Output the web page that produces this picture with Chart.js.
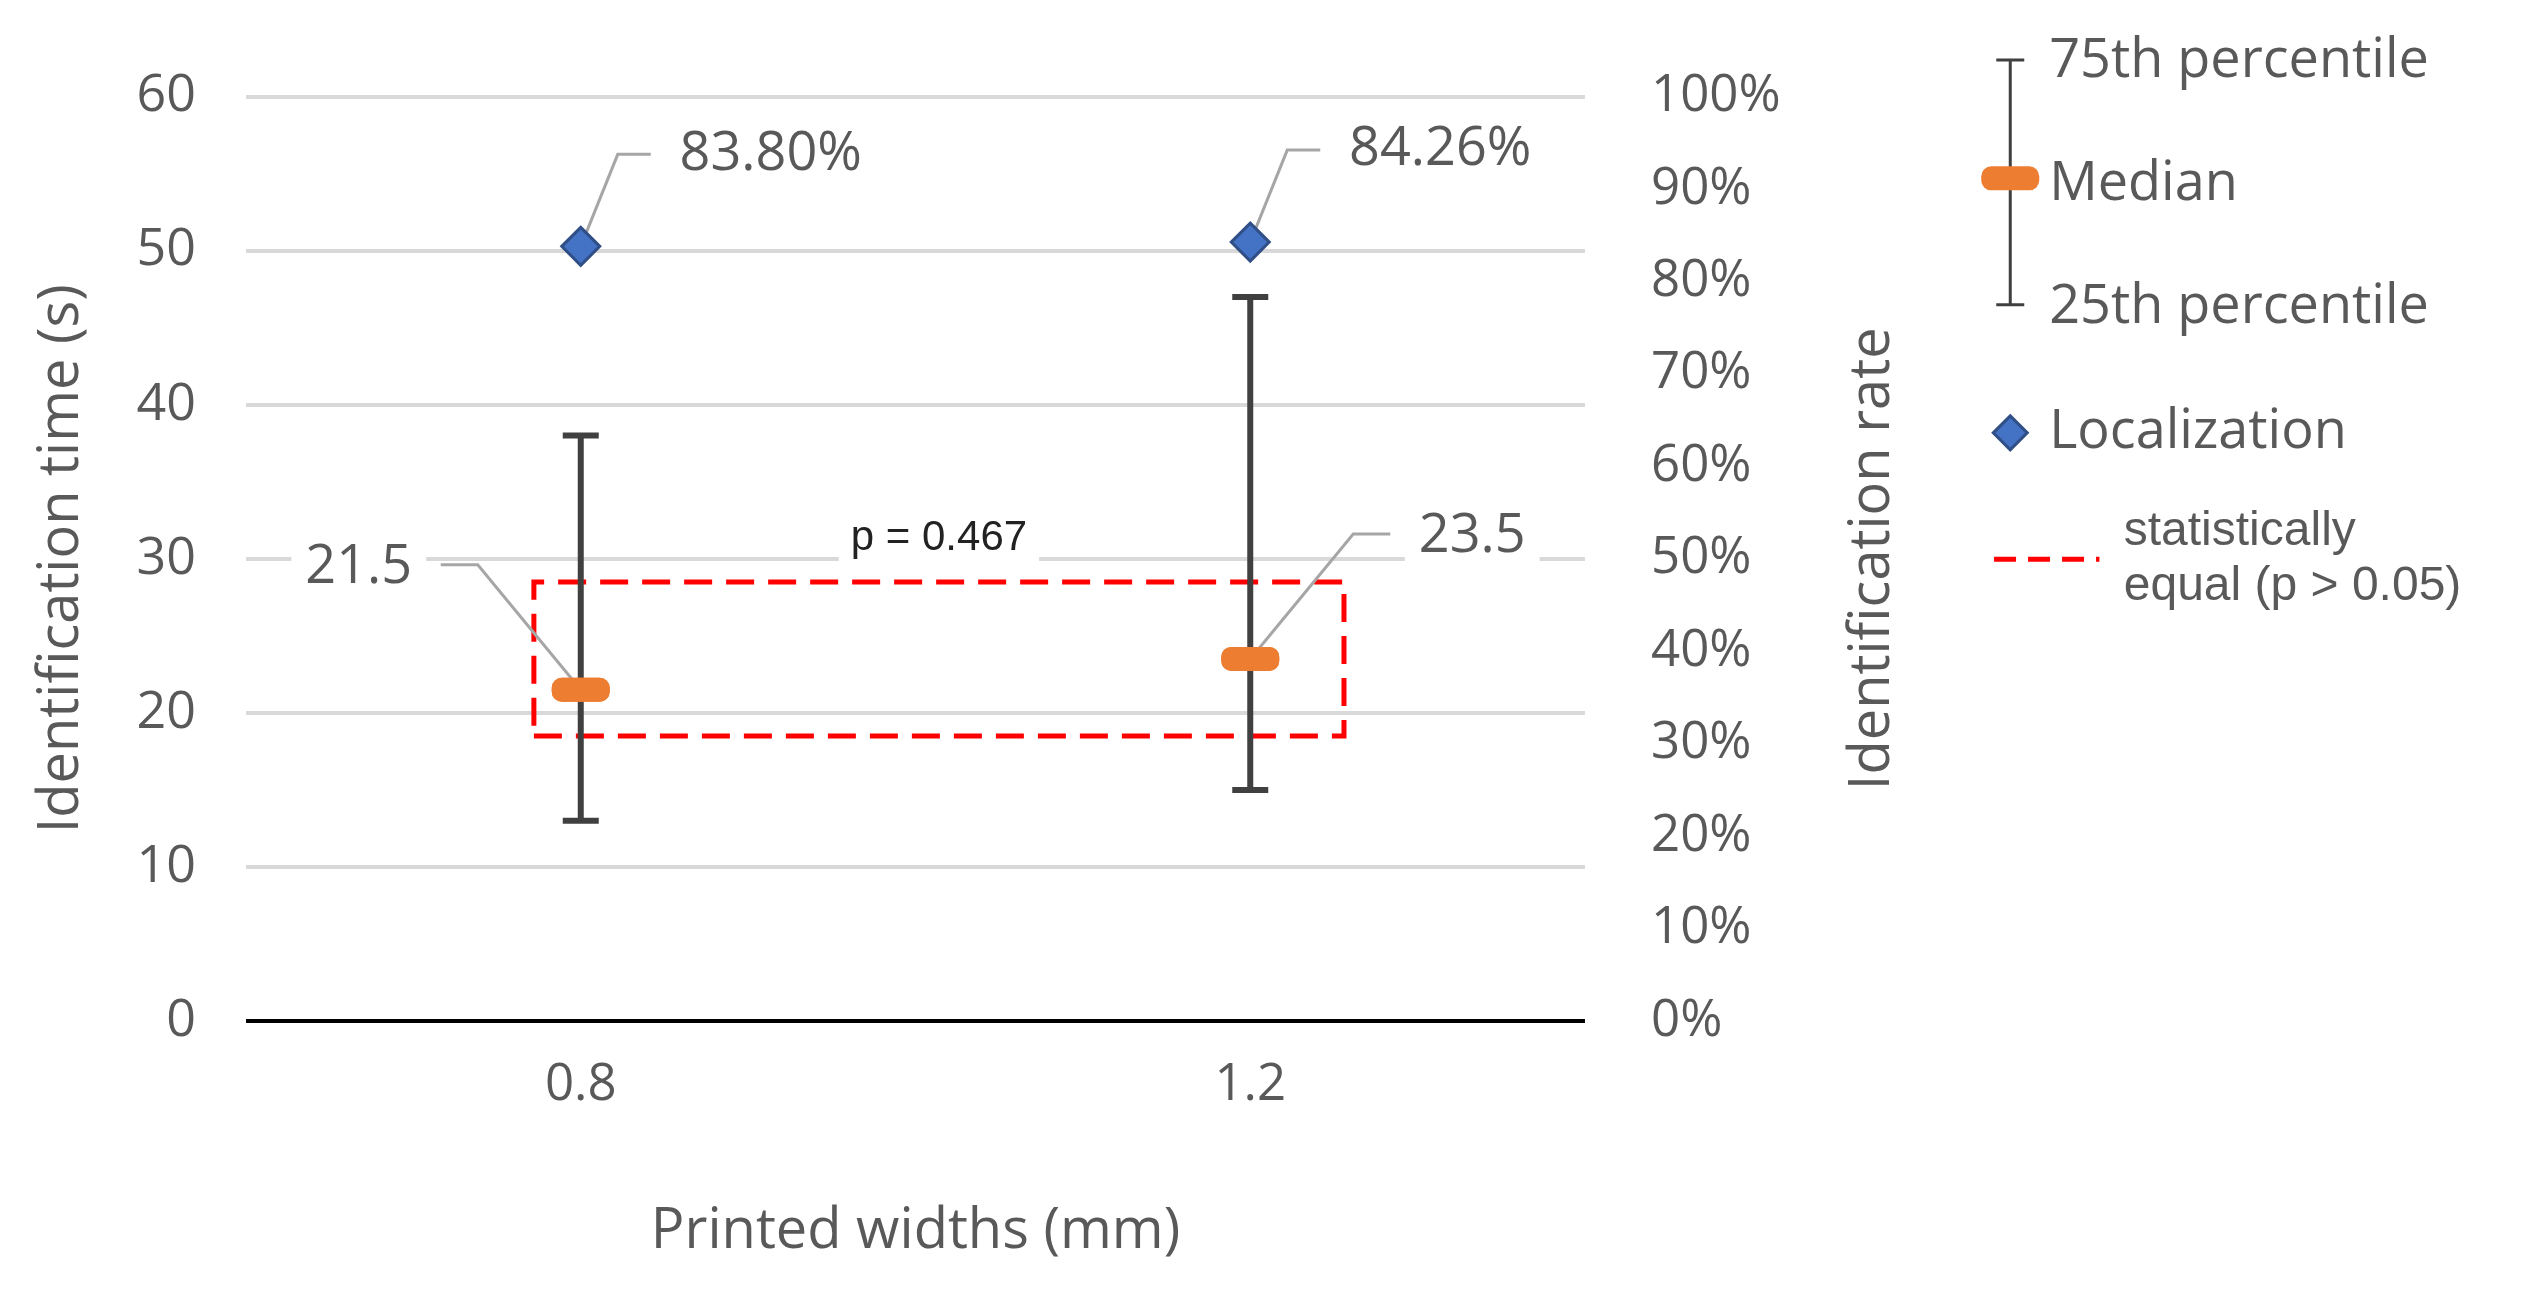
<!DOCTYPE html>
<html><head><meta charset="utf-8">
<script src="https://cdn.jsdelivr.net/npm/chart.js@4.4.1/dist/chart.umd.min.js"></script>
<style>html,body{margin:0;padding:0;background:#fff}#wrap{width:2542px;height:1295px}</style>
</head><body><div id="wrap"><canvas id="c"></canvas></div>
<script>
// data
const widths = ['0.8', '1.2'];
const q1 = [13, 15];
const q3 = [38, 47];
const medians = [21.5, 23.5];
const localization = [83.80, 84.26];
const eqBoxX = [-0.07, 1.14];
const eqBoxY = [18.5, 28.5];
const pText = 'p = 0.467';

const S = 2542 / 1568;
const GRAY = '#595959';
const FONT = '"Open Sans", "Noto Sans", sans-serif';

function diamond(ctx, x, y, r) {
    ctx.beginPath();
    ctx.moveTo(x, y - r); ctx.lineTo(x + r, y); ctx.lineTo(x, y + r); ctx.lineTo(x - r, y); ctx.closePath();
    ctx.fillStyle = '#4472c4'; ctx.fill();
    ctx.strokeStyle = '#2f4f86'; ctx.lineWidth = 3; ctx.stroke();
}
function medianBar(ctx, x, y) {
    ctx.fillStyle = '#ed7d31';
    ctx.beginPath();
    ctx.roundRect(x - 29, y - 12, 58, 24, 10);
    ctx.fill();
}
function leaderLabel(ctx, px, py, pts, tx, ty, text) {
    ctx.font = '54px ' + FONT;
    const tw = ctx.measureText(text).width;
    ctx.fillStyle = '#fff';
    ctx.fillRect(px + tx - tw / 2 - 14, py + ty - 34, tw + 28, 68);
    ctx.strokeStyle = '#a6a6a6'; ctx.lineWidth = 3;
    ctx.beginPath(); ctx.moveTo(px, py);
    pts.forEach(p => ctx.lineTo(px + p[0], py + p[1]));
    ctx.stroke();
    ctx.fillStyle = GRAY; ctx.textAlign = 'center'; ctx.textBaseline = 'middle';
    ctx.fillText(text, px + tx, py + ty);
}

const drawExtras = {
    id: 'extras',
    afterDatasetsDraw(chart) {
        const ctx = chart.ctx, x = chart.scales.x, y = chart.scales.y, y2 = chart.scales.y2;
        ctx.save();
        // whiskers
        widths.forEach((w, i) => {
            const px = x.getPixelForValue(i);
            const a = y.getPixelForValue(q1[i]), b = y.getPixelForValue(q3[i]);
            ctx.strokeStyle = '#404040'; ctx.lineWidth = 6;
            ctx.beginPath();
            ctx.moveTo(px, a); ctx.lineTo(px, b);
            ctx.moveTo(px - 18, a); ctx.lineTo(px + 18, a);
            ctx.moveTo(px - 18, b); ctx.lineTo(px + 18, b);
            ctx.stroke();
            medianBar(ctx, px, y.getPixelForValue(medians[i]));
        });
        // p label
        const cx = x.getPixelForValue((eqBoxX[0] + eqBoxX[1]) / 2), cy = y.getPixelForValue(31.3);
        ctx.font = '42px "Liberation Sans", Arial, sans-serif';
        const tw = ctx.measureText(pText).width;
        ctx.fillStyle = '#fff'; ctx.fillRect(cx - tw / 2 - 12, cy - 26, tw + 24, 52);
        ctx.fillStyle = '#222'; ctx.textAlign = 'center'; ctx.textBaseline = 'middle';
        ctx.fillText(pText, cx, cy);
        // data labels
        localization.forEach((v, i) => {
            const px = x.getPixelForValue(i), py = y2.getPixelForValue(v);
            leaderLabel(ctx, px, py, [[37, -92], [70, -92]], 190, -92, v.toFixed(2) + '%');
            diamond(ctx, px, py, 19);
        });
        medians.forEach((v, i) => {
            const px = x.getPixelForValue(i), py = y.getPixelForValue(v);
            const sg = i === 0 ? -1 : 1;
            leaderLabel(ctx, px, py, [[sg * 103, -125], [sg * 140, -125]], sg * 222, -122, String(v));
            medianBar(ctx, px, py);
        });
        // axis titles
        ctx.font = '56px ' + FONT; ctx.fillStyle = GRAY;
        ctx.save(); ctx.translate(62, (y.top + y.bottom) / 2); ctx.rotate(-Math.PI / 2);
        ctx.fillText('Identification time (s)', 0, 0); ctx.restore();
        ctx.save(); ctx.translate(1873, (y.top + y.bottom) / 2); ctx.rotate(-Math.PI / 2);
        ctx.fillText('Identification rate', 0, 0); ctx.restore();
        ctx.fillText('Printed widths (mm)', (x.left + x.right) / 2, 760 * S);
        // legend
        const lx = 1240 * S;
        ctx.strokeStyle = '#404040'; ctx.lineWidth = 3;
        ctx.beginPath();
        ctx.moveTo(lx, 37 * S); ctx.lineTo(lx, 188 * S);
        ctx.moveTo(lx - 14, 37 * S); ctx.lineTo(lx + 14, 37 * S);
        ctx.moveTo(lx - 14, 188 * S); ctx.lineTo(lx + 14, 188 * S);
        ctx.stroke();
        medianBar(ctx, lx, 110 * S);
        diamond(ctx, lx, 267 * S, 17);
        ctx.strokeStyle = '#ff0000'; ctx.lineWidth = 5; ctx.setLineDash([22, 12]);
        ctx.beginPath(); ctx.moveTo(1230 * S, 345 * S); ctx.lineTo(1295 * S, 345 * S); ctx.stroke();
        ctx.setLineDash([]);
        ctx.font = '54px ' + FONT; ctx.fillStyle = GRAY; ctx.textAlign = 'left';
        ctx.fillText('75th percentile', 1264 * S, 38 * S);
        ctx.fillText('Median', 1264 * S, 114 * S);
        ctx.fillText('25th percentile', 1264 * S, 190 * S);
        ctx.fillText('Localization', 1264 * S, 267 * S);
        ctx.font = '48px "Liberation Sans", Arial, sans-serif';
        ctx.fillText('statistically', 1310 * S, 328 * S);
        ctx.fillText('equal (p > 0.05)', 1310 * S, 362 * S);
        ctx.restore();
    }
};

new Chart(document.getElementById('c'), {
    type: 'scatter',
    data: {
        datasets: [{
            label: 'statistically equal',
            type: 'line',
            data: [
                { x: eqBoxX[0], y: eqBoxY[0] }, { x: eqBoxX[1], y: eqBoxY[0] },
                { x: eqBoxX[1], y: eqBoxY[1] }, { x: eqBoxX[0], y: eqBoxY[1] },
                { x: eqBoxX[0], y: eqBoxY[0] }
            ],
            borderColor: '#ff0000', borderWidth: 5, borderDash: [28, 14],
            pointRadius: 0, fill: false, yAxisID: 'y'
        }]
    },
    options: {
        responsive: true, maintainAspectRatio: false, animation: false,
        layout: { padding: { top: 89, left: 0, right: 0, bottom: 0 } },
        plugins: { legend: { display: false }, tooltip: { enabled: false } },
        scales: {
            x: {
                type: 'linear', min: -0.5, max: 1.5,
                afterBuildTicks: a => { a.ticks = widths.map((w, i) => ({ value: i })); },
                afterFit: a => { a.height = 274; },
                ticks: { callback: v => widths[v], color: GRAY, font: { size: 51, family: FONT }, padding: 26 },
                grid: { display: false }, border: { display: false }
            },
            y: {
                position: 'left', min: 0, max: 60,
                afterFit: a => { a.width = 246; },
                ticks: { stepSize: 10, color: GRAY, font: { size: 52, family: FONT }, padding: 50 },
                grid: { color: c => c.tick.value === 0 ? '#000' : '#d9d9d9', lineWidth: c => c.tick.value === 0 ? 4 : 4, drawTicks: false },
                border: { display: false }
            },
            y2: {
                position: 'right', min: 0, max: 100,
                afterFit: a => { a.width = 2542 - 1585; },
                ticks: { stepSize: 10, callback: v => v + '%', color: GRAY, font: { size: 51, family: FONT }, padding: 66 },
                grid: { display: false, drawTicks: false }, border: { display: false }
            }
        }
    },
    plugins: [drawExtras]
});
</script></body></html>
